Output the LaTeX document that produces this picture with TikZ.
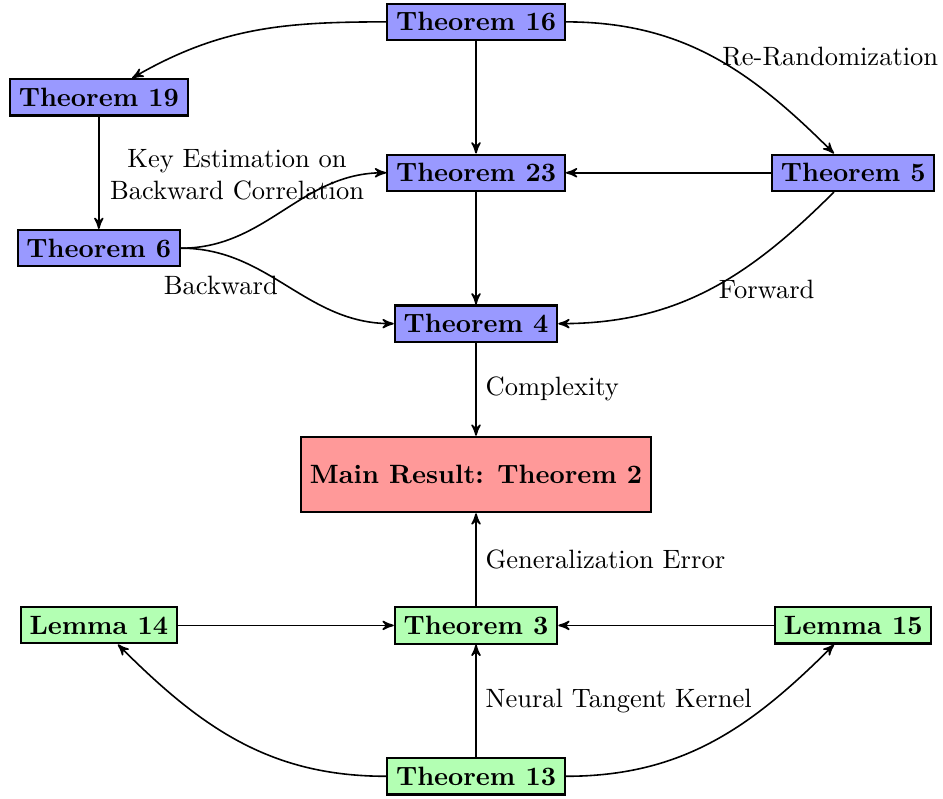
\documentclass[tikz,border=0pt]{standalone}
\usepackage{amsmath, amssymb}
\usepackage{tikz}
\usetikzlibrary{arrows}
\definecolor{thmblue}{RGB}{153, 153, 255}
\definecolor{thmgreen}{RGB}{179, 255, 179}
\definecolor{thmred}{RGB}{255, 153, 153}

\begin{document}
\begin{tikzpicture}[>=stealth', semithick,
    thm/.style={draw, thick, fill=thmblue, font=\bfseries},
    ntk/.style={draw, thick, fill=thmgreen, font=\bfseries},
    mainres/.style={draw, thick, fill=thmred, font=\bfseries, minimum height=1cm}]
  \useasboundingbox (-6.31,-10.30) rectangle (6.19,0.29);
  % upper part: blue theorems
  \node[thm] (t16) at (0,0) {Theorem 16};
  \node[thm] (t19) at (-5,-1) {Theorem 19};
  \node[thm] (t23) at (0,-2) {Theorem 23};
  \node[thm] (t5) at (5,-2) {Theorem 5};
  \node[thm] (t6) at (-5,-3) {Theorem 6};
  \node[thm] (t4) at (0,-4) {Theorem 4};
  \node[mainres] (t2) at (0,-6) {Main Result: Theorem 2};
  % lower part: green results
  \node[ntk] (l14) at (-5,-8) {Lemma 14};
  \node[ntk] (t3) at (0,-8) {Theorem 3};
  \node[ntk] (l15) at (5,-8) {Lemma 15};
  \node[ntk] (t13) at (0,-10) {Theorem 13};

  \draw[->] (t16) to[out=180, in=30] (t19);
  \draw[->] (t16) -- (t23);
  \draw[->] (t16) to[out=0, in=135] node[midway, right] {Re-Randomization} (t5);
  \draw[->] (t19) -- (t6);
  \draw[->] (t5) -- (t23);
  \draw[->] (t6) to[out=0, in=180] node[pos=0.25, above=10pt, align=center] {Key Estimation on\\Backward Correlation} (t23);
  \draw[->] (t6) to[out=0, in=180] node[midway, left] {Backward} (t4);
  \draw[->] (t23) -- (t4);
  \draw[->] (t5) to[out=225, in=0] node[midway, right] {Forward} (t4);
  \draw[->] (t4) -- node[right] {Complexity} (t2);
  \draw[->] (t3) -- node[right] {Generalization Error} (t2);
  \draw[->] (l14) -- (t3);
  \draw[->] (l15) -- (t3);
  \draw[->] (t13) -- node[right] {Neural Tangent Kernel} (t3);
  \draw[->] (t13) to[out=180, in=-45] (l14);
  \draw[->] (t13) to[out=0, in=-135] (l15);
\end{tikzpicture}
\end{document}
